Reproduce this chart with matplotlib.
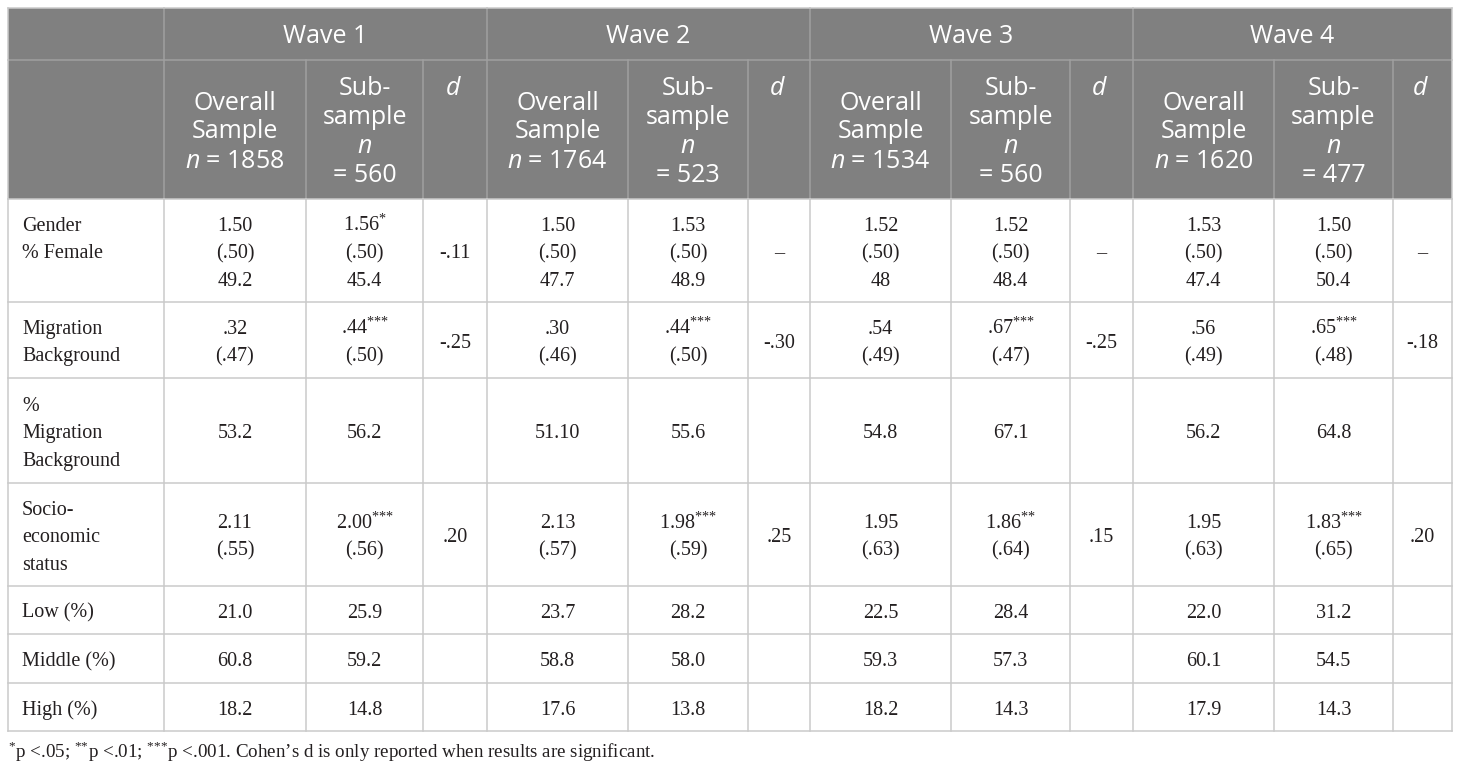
import matplotlib
matplotlib.use('Agg')
import matplotlib.pyplot as plt
from matplotlib.patches import Rectangle

HEAD_FONT = 'Open Sans'
BODY_FONT = 'Liberation Serif'

plt.rcParams['mathtext.fontset'] = 'custom'
plt.rcParams['mathtext.rm'] = BODY_FONT
plt.rcParams['mathtext.it'] = HEAD_FONT + ':italic'

# ---- data ----
waves = ['Wave 1', 'Wave 2', 'Wave 3', 'Wave 4']
overall_n = [1858, 1764, 1534, 1620]
sub_n = [560, 523, 560, 477]

row_labels = [['Gender', '% Female'],
              ['Migration', 'Background'],
              ['%', 'Migration', 'Background'],
              ['Socio-', 'economic', 'status'],
              ['Low (%)'],
              ['Middle (%)'],
              ['High (%)']]

gender_mean_all = ['1.50', '1.50', '1.52', '1.53']
gender_sd_all = ['(.50)', '(.50)', '(.50)', '(.50)']
female_pct_all = ['49.2', '47.7', '48', '47.4']
gender_mean_sub = ['1.56', '1.53', '1.52', '1.50']
gender_star_sub = ['*', '', '', '']
gender_sd_sub = ['(.50)', '(.50)', '(.50)', '(.50)']
female_pct_sub = ['45.4', '48.9', '48.4', '50.4']
gender_d = ['-.11', '–', '–', '–']

mig_mean_all = ['.32', '.30', '.54', '.56']
mig_sd_all = ['(.47)', '(.46)', '(.49)', '(.49)']
mig_mean_sub = ['.44', '.44', '.67', '.65']
mig_star_sub = ['***', '***', '***', '***']
mig_sd_sub = ['(.50)', '(.50)', '(.47)', '(.48)']
mig_d = ['-.25', '-.30', '-.25', '-.18']

mig_pct_all = ['53.2', '51.10', '54.8', '56.2']
mig_pct_sub = ['56.2', '55.6', '67.1', '64.8']

ses_mean_all = ['2.11', '2.13', '1.95', '1.95']
ses_sd_all = ['(.55)', '(.57)', '(.63)', '(.63)']
ses_mean_sub = ['2.00', '1.98', '1.86', '1.83']
ses_star_sub = ['***', '***', '**', '***']
ses_sd_sub = ['(.56)', '(.59)', '(.64)', '(.65)']
ses_d = ['.20', '.25', '.15', '.20']

low_all = ['21.0', '23.7', '22.5', '22.0']
low_sub = ['25.9', '28.2', '28.4', '31.2']
mid_all = ['60.8', '58.8', '59.3', '60.1']
mid_sub = ['59.2', '58.0', '57.3', '54.5']
high_all = ['18.2', '17.6', '18.2', '17.9']
high_sub = ['14.8', '13.8', '14.3', '14.3']

footnote = (r'$^{\text{*}}$p <.05; $^{\text{**}}$p <.01; $^{\text{***}}$p <.001. '
            'Cohen’s d is only reported when results are significant.')


def star(v, s):
    return v + (r'$^{\text{' + s + '}}$' if s else '')


# ---- layout ----
col_x = [8, 164, 306, 423, 487, 628, 748, 810, 951, 1070, 1133, 1274, 1393, 1452]
row_y = [8, 60, 199, 302, 378, 483, 586, 634, 683, 731]
head_bg = '#808080'
head_line = '#a0a0a0'
body_line = '#cacaca'
ink = '#231f20'

fig = plt.figure(figsize=(14.6, 7.68), dpi=100)
ax = fig.add_axes([0, 0, 1, 1])
ax.set_xlim(0, 1460)
ax.set_ylim(768, 0)
ax.axis('off')

ax.add_patch(Rectangle((col_x[0], row_y[0]), col_x[-1] - col_x[0],
                       row_y[2] - row_y[0], color=head_bg, lw=0))

lw = 1.1
# header lines
ax.plot([col_x[0], col_x[-1]], [row_y[1], row_y[1]], color=head_line, lw=lw)
for i, x in enumerate(col_x):
    if i in (0, len(col_x) - 1):
        continue
    y0 = row_y[0] if i in (1, 4, 7, 10) else row_y[1]
    ax.plot([x, x], [y0, row_y[2]], color=head_line, lw=lw)
ax.plot([col_x[0], col_x[-1]], [row_y[0], row_y[0]], color=body_line, lw=lw)

# body lines
for y in row_y[2:]:
    ax.plot([col_x[0], col_x[-1]], [y, y], color=body_line, lw=lw)
for x in col_x:
    ax.plot([x, x], [row_y[2], row_y[-1]], color=body_line, lw=lw)
for x in (col_x[0], col_x[-1]):
    ax.plot([x, x], [row_y[0], row_y[2]], color=body_line, lw=lw)


def put_lines(x, yc, lines, step, cap, size, family, color, ha='center', top=None):
    n = len(lines)
    for i, s in enumerate(lines):
        if top is not None:
            y = top + i * step
        else:
            y = yc + (i - (n - 1) / 2) * step
        ax.text(x, y + cap / 2, s, ha=ha, va='baseline', fontsize=size,
                family=family, color=color)


HS, HCAP, HSTEP = 18, 18, 29
BS, BCAP, BSTEP = 14.5, 13.3, 27.5

# header text
for w in range(4):
    c0 = 1 + 3 * w
    xw = (col_x[c0] + col_x[c0 + 3]) / 2
    put_lines(xw, (row_y[0] + row_y[1]) / 2, [waves[w]], HSTEP, HCAP, HS,
              HEAD_FONT, 'white')
    yc = (row_y[1] + row_y[2]) / 2
    put_lines((col_x[c0] + col_x[c0 + 1]) / 2, yc,
              ['Overall', 'Sample', '$n$ = %d' % overall_n[w]],
              HSTEP, HCAP, HS, HEAD_FONT, 'white')
    put_lines((col_x[c0 + 1] + col_x[c0 + 2]) / 2, yc,
              ['Sub-', 'sample', '$n$', '= %d' % sub_n[w]],
              HSTEP, HCAP, HS, HEAD_FONT, 'white')
    put_lines((col_x[c0 + 2] + col_x[c0 + 3]) / 2 - 2, yc - 1.5 * HSTEP,
              ['$d$'], HSTEP, HCAP, HS, HEAD_FONT, 'white')

# body cells per row: (overall lines, sub lines, d lines)
body = []
for w in range(4):
    body.append([
        ([gender_mean_all[w], gender_sd_all[w], female_pct_all[w]],
         [star(gender_mean_sub[w], gender_star_sub[w]), gender_sd_sub[w], female_pct_sub[w]],
         [gender_d[w]]),
        ([mig_mean_all[w], mig_sd_all[w]],
         [star(mig_mean_sub[w], mig_star_sub[w]), mig_sd_sub[w]],
         [mig_d[w]]),
        ([mig_pct_all[w]], [mig_pct_sub[w]], []),
        ([ses_mean_all[w], ses_sd_all[w]],
         [star(ses_mean_sub[w], ses_star_sub[w]), ses_sd_sub[w]],
         [ses_d[w]]),
        ([low_all[w]], [low_sub[w]], []),
        ([mid_all[w]], [mid_sub[w]], []),
        ([high_all[w]], [high_sub[w]], []),
    ])

for r in range(7):
    y0, y1 = row_y[2 + r], row_y[3 + r]
    yc = (y0 + y1) / 2 + 1
    if r == 0:
        put_lines(22, yc, row_labels[r], BSTEP, BCAP, BS, BODY_FONT, ink,
                  ha='left', top=y0 + 25)
    else:
        put_lines(22, yc, row_labels[r], BSTEP, BCAP, BS, BODY_FONT, ink,
                  ha='left')
    for w in range(4):
        c0 = 1 + 3 * w
        for k in range(3):
            xc = (col_x[c0 + k] + col_x[c0 + k + 1]) / 2
            put_lines(xc, yc, body[w][r][k], BSTEP, BCAP, BS, BODY_FONT, ink)

ax.text(8, 758, footnote, ha='left', va='baseline', fontsize=13.7,
        family=BODY_FONT, color=ink)

fig.savefig('out.png', dpi=100)
